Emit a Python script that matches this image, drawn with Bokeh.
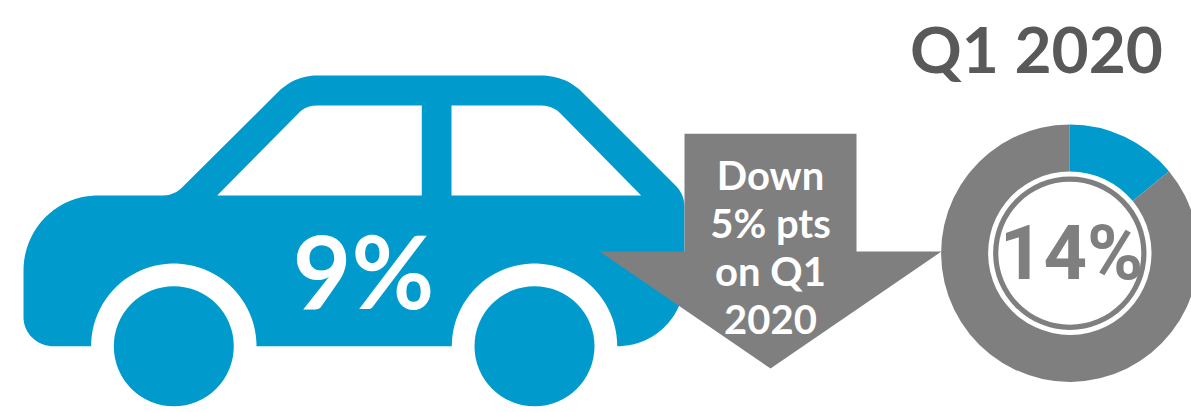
import numpy as np
from bokeh.plotting import figure
from bokeh.models import Range1d
from bokeh.core.properties import value
from bokeh.embed import file_html
from bokeh.resources import INLINE

# --- data / labels ---
donut_labels = ["Share", "Rest"]
donut_values = [14, 86]
donut_colors = ["#009ACD", "#7F7F7F"]
title_text = "Q1 2020"
car_text = "9%"
donut_text = "14%"
arrow_lines = ["Down", "5% pts", "on Q1", "2020"]

BLUE, GREY, DARK = "#009ACD", "#7F7F7F", "#595959"
W, H = 1191, 412

def Y(py):
    return H - np.asarray(py, dtype=float)

def arc(cx, cy, rx, ry, a0, a1, n=48):
    # angles in degrees, screen sense (y downward)
    t = np.radians(np.linspace(a0, a1, n))
    return list(zip(cx + rx * np.cos(t), cy + ry * np.sin(t)))

def bez(p0, c, p1, n=16):
    t = np.linspace(0, 1, n)
    return [((1-u)**2*p0[0] + 2*u*(1-u)*c[0] + u*u*p1[0],
             (1-u)**2*p0[1] + 2*u*(1-u)*c[1] + u*u*p1[1]) for u in t]

def xy(points):
    a = np.array(points)
    return a[:, 0], Y(a[:, 1])

# car outline (pictogram, screen coordinates)
ground, top, sill = 345.7, 75, 195
front_wheel, rear_wheel = 173.3, 534
arch_r, wheel_r = 82.7, 60
body = []
body += arc(53, ground - 29, 30, 29, 90, 180)
body += arc(97, 270, 74, 75, 180, 270)
body += bez((162, sill), (173, sill), (181, 187.5))
body += bez((277, 92), (294, 75), (317, top))
body += bez((540, top), (565, top), (582, 92))
body += bez((675, 185), (684, 194), (684, 207))
body += arc(617, 279, 67, 66.7, 0, 90)
body += arc(rear_wheel, ground, arch_r, arch_r, 0, -180)
body += arc(front_wheel, ground, arch_r, arch_r, 0, -180)

win_front = [(216.7, sill)] + bez((298, 112.7), (305, 105), (317, 105)) + [(421.3, 105), (421.3, sill)]
win_rear = [(451, sill), (451, 105)] + bez((540, 105), (552, 105), (560, 113)) + [(640.7, sill)]
arrow = [(684, 133.3), (856, 133.3), (856, 251), (941, 251), (770, 368), (599, 251), (684, 251)]

p = figure(width=W, height=H, x_range=Range1d(0, W), y_range=Range1d(0, H),
           output_backend="svg", toolbar_location=None, min_border=0, outline_line_color=None)
p.axis.visible = False
p.grid.visible = False
p.background_fill_color = "white"
p.border_fill_color = "white"

# car
x, y = xy(body)
p.patch(x, y, fill_color=BLUE, line_color=None)
for win in (win_front, win_rear):
    x, y = xy(win)
    p.patch(x, y, fill_color="white", line_color=None)
p.circle(x=[front_wheel, rear_wheel], y=Y([ground, ground]), radius=wheel_r,
         fill_color=BLUE, line_color=None)

# donut
cx, cy = 1069.3, float(Y(252.7))
fracs = np.array(donut_values, dtype=float) / sum(donut_values)
edges = np.pi / 2 - 2 * np.pi * np.concatenate([[0], np.cumsum(fracs)])
p.annular_wedge(x=[cx, cx], y=[cy, cy], inner_radius=81.7, outer_radius=128.7,
                start_angle=edges[1:], end_angle=edges[:-1],
                fill_color=donut_colors, line_color=None)
p.annulus(x=[cx], y=[cy], inner_radius=71.5, outer_radius=76.7, fill_color=GREY, line_color=None)

# arrow
x, y = xy(arrow)
p.patch(x, y, fill_color=GREY, line_color=None)

# texts
def label(px, py, txt, size, color, font, style="bold"):
    # the renderer sets "alphabetic" lines about 0.4 em low: compensate
    p.text(x=[px], y=Y([py - 0.40 * size]), text=[txt], text_align="center", text_baseline="alphabetic",
           text_font=value(font), text_font_size=f"{size}px", text_font_style=style, text_color=color)

label(1036, 74, title_text, 64, DARK, "Lato")
label(363, 310, car_text, 101, "white", "Lato")
label(1071, 283, donut_text, 76, GREY, "Roboto")
for py, line in zip([190.7, 238, 286.7, 335], arrow_lines):
    label(770, py, line, 40, "white", "Lato")

open("out.html", "w").write(file_html(p, INLINE))
